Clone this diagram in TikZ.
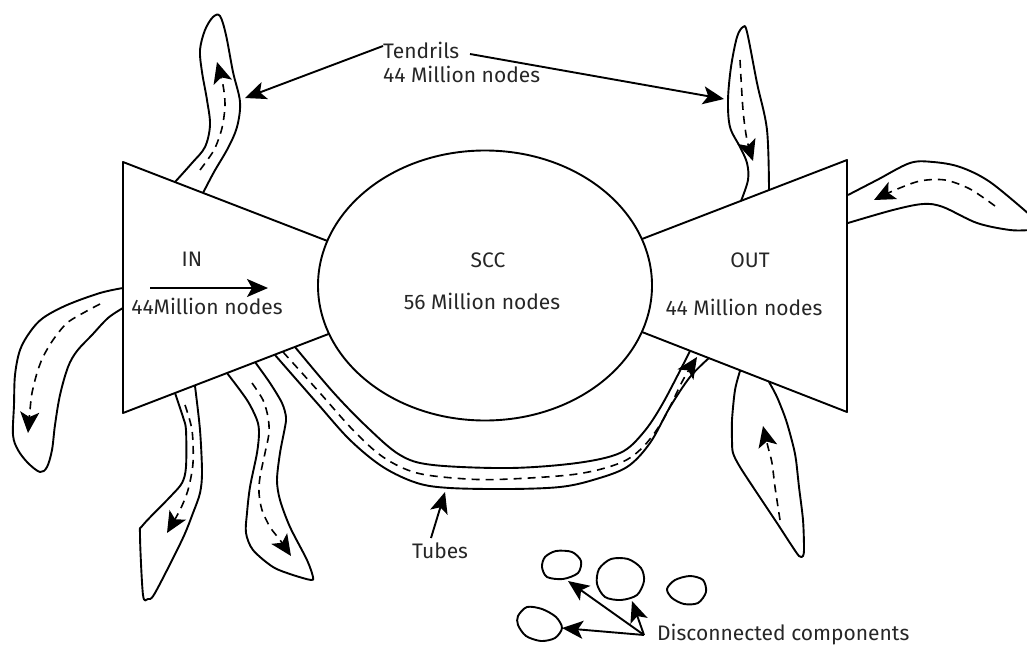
\documentclass[tikz,border=0pt]{standalone}
\usepackage{fontspec}
\setmainfont{Fira Sans}
\usetikzlibrary{arrows.meta,shapes.geometric}
\tikzset{
  outline/.style={line width=1.9pt, line join=round},
  flow/.style={line width=1.6pt, dash pattern=on 8pt off 6pt, -{Stealth[length=21pt,width=19pt,inset=5pt]}},
  pointer/.style={line width=1.9pt, -{Stealth[length=21pt,width=18pt,inset=5pt]}},
  lbl/.style={font=\fontsize{21}{25}\selectfont, inner sep=0pt, text=black!85},
  blob/.style={line width=1.9pt},
}
\begin{document}
\begin{tikzpicture}[x=1pt,y=-1pt]
\useasboundingbox (0,0) rectangle (1027,650);

% SCC ellipse
\node[draw, outline, ellipse, minimum width=334pt, minimum height=270pt, inner sep=0pt] (scc) at (485,285.5) {};
% IN and OUT trapezoids
\draw[outline] (327.5,241) -- (123,162) -- (123,413) -- (328.5,334);
\draw[outline] (642,239) -- (847,160) -- (847,412) -- (642,332);

% texts
\node[lbl, anchor=base] (inT) at (192,266) {IN};
\node[lbl, anchor=base] (inN) at (207,314) {44Million nodes};
\node[lbl, anchor=base] (sccT) at (488,267) {SCC};
\node[lbl, anchor=base] (sccN) at (482,309) {56 Million nodes};
\node[lbl, anchor=base] (outT) at (750,267) {OUT};
\node[lbl, anchor=base] (outN) at (744,315) {44 Million nodes};
\node[lbl, anchor=base west] (tendT) at (383,59) {Tendrils};
\node[lbl, anchor=base west] (tendN) at (383,83) {44 Million nodes};
\node[lbl, anchor=base] (tubesT) at (440,558) {Tubes};
\node[lbl, anchor=base west] (discT) at (657,640) {Disconnected components};

% IN arrow
\coordinate (inA) at (150,288);
\coordinate (inB) at (268,288);
\draw[pointer] (inA) -- (inB);

% top-left tendril
\draw[outline] plot[smooth, tension=0.55] coordinates {(175,182) (192,163) (205,147) (210,125) (207,100) (202,72) (200,50) (205,30) (213,17) (220,16) (226,35) (233,72) (240,102) (237,127) (228,148) (214,172) (203,193)};
\draw[flow] plot[smooth] coordinates {(200,170) (214,150) (222,128) (225,105) (223,85) (217,62)};

% top-right tendril
\draw[outline] plot[smooth, tension=0.55] coordinates {(741,201) (748,180) (747,163) (740,147) (730,127) (728,100) (731,67) (737,37) (743,27) (747,32) (757,83) (767,130) (769,190)};
\draw[flow] plot[smooth] coordinates {(740,60) (743,110) (747,140) (753,161)};

% right tendril (runs off the page)
\draw[outline] plot[smooth, tension=0.55] coordinates {(848,195) (877,180) (910,163) (933,162) (960,167) (990,182) (1030,215)};
\draw[outline] plot[smooth, tension=0.55] coordinates {(848,223) (893,210) (923,204) (943,207) (977,223) (1010,230) (1030,230)};
\draw[flow] plot[smooth] coordinates {(995,206) (970,189) (945,180) (920,181) (895,190) (874,200)};

% left tendril
\draw[outline] plot[smooth, tension=0.55] coordinates {(123,288) (100,293) (67,305) (43,318) (30,332) (20,350) (15,375) (14,405) (13,435) (18,450) (28,463) (40,472) (47,467) (52,450) (55,425) (60,395) (68,367) (77,351) (92,335) (108,318) (123,308)};
\draw[flow] plot[smooth] coordinates {(100,304) (85,312) (67,323) (53,340) (43,357) (37,373) (32,393) (30,410) (28,433)};

% bottom tendril 1
\draw[outline] plot[smooth, tension=0.5] coordinates {(175,393) (183,417) (186,430) (186,467) (182,483) (170,497) (143,525) (140,535) (143,595) (148,599) (155,593) (182,540) (193,513) (200,493) (202,472) (200,430) (195,386)};
\draw[flow] plot[smooth] coordinates {(185,405) (192,430) (193,463) (188,490) (180,510) (167,533)};

% bottom tendril 2
\draw[outline] plot[smooth, tension=0.5] coordinates {(227,373) (247,400) (257,420) (259,433) (257,453) (250,487) (247,513) (246,533) (253,550) (273,567) (293,575) (311,580) (313,577) (307,560) (290,527) (280,500) (277,480) (280,453) (285,427) (286,417) (282,403) (270,383) (255,362)};
\draw[flow] plot[smooth] coordinates {(252,383) (263,400) (268,417) (269,433) (265,453) (260,477) (259,493) (262,510) (270,527) (280,540) (291,556)};

% OUT bottom tendril
\draw[outline] plot[smooth, tension=0.5] coordinates {(740,371) (735,390) (732,420) (732,440) (733,453) (740,467) (757,493) (777,523) (790,543) (799,556) (803,556) (804,548) (803,520) (799,487) (796,460) (793,445) (786,420) (777,397) (769,382)};
\draw[flow] plot[smooth] coordinates {(780,520) (775,487) (772,463) (768,447) (763,426)};

% tube
\draw[outline] plot[smooth, tension=0.55] coordinates {(275,355) (317,403) (350,440) (383,467) (417,483) (450,488) (510,489) (560,487) (593,480) (627,467) (650,443) (670,407) (690,377) (709,358)};
\draw[outline] plot[smooth, tension=0.55] coordinates {(295,347) (333,392) (367,427) (400,455) (433,465) (510,468) (577,463) (620,453) (643,433) (663,403) (690,351)};
\draw[flow] plot[smooth, tension=0.55] coordinates {(283,352) (320,393) (353,430) (383,457) (417,473) (467,479) (510,479) (577,474) (620,463) (643,447) (663,420) (683,380) (697,357)};

% disconnected components
\draw[blob] plot[smooth cycle] coordinates {(545,557) (556,551) (572,552) (581,561) (578,573) (563,579) (547,577) (542,567)};
\draw[blob] plot[smooth cycle] coordinates {(599,569) (611,559) (628,559) (641,568) (644,581) (637,595) (621,600) (605,597) (597,584)};
\draw[blob] plot[smooth cycle] coordinates {(667,589) (675,580) (690,576) (703,580) (706,592) (698,603) (684,604) (672,598)};
\draw[blob] plot[smooth cycle] coordinates {(518,616) (527,607) (542,609) (556,617) (562,628) (555,638) (541,641) (526,636) (518,625)};

% label pointers
\coordinate (tl) at (383,46);
\coordinate (tr) at (470,54);
\coordinate (tendLeft) at (245,98);
\coordinate (tendRight) at (724,99);
\draw[pointer] (tl) -- (tendLeft);
\draw[pointer] (tr) -- (tendRight);

\coordinate (tubeFrom) at (431,538);
\coordinate (tubeTo) at (445,492);
\draw[pointer] (tubeFrom) -- (tubeTo);

\coordinate (dc) at (644,635);
\coordinate (b1) at (568,581);
\coordinate (b2) at (632,601);
\coordinate (b4) at (562,628);
\draw[pointer] (dc) -- (b1);
\draw[pointer] (dc) -- (b2);
\draw[pointer] (dc) -- (b4);
\end{tikzpicture}
\end{document}
